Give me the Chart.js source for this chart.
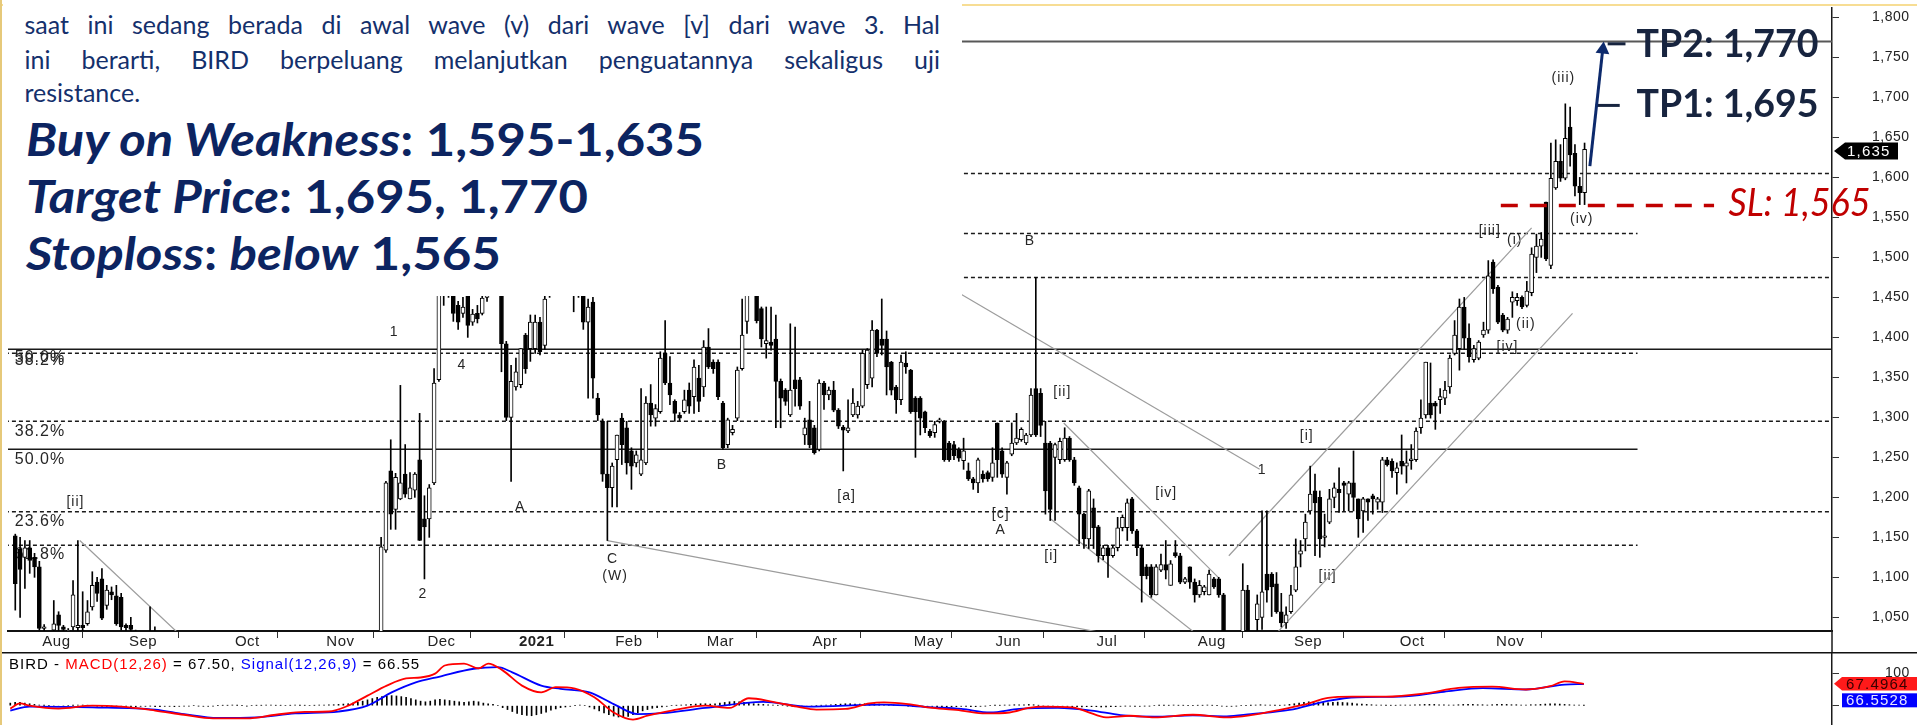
<!DOCTYPE html>
<html>
<head>
<meta charset="utf-8">
<script src="https://cdn.jsdelivr.net/npm/chart.js@4.4.1/dist/chart.umd.min.js"></script>
<style>
  html, body { margin: 0; padding: 0; background: #fff; }
  #wrap { position: relative; width: 1917px; height: 725px; overflow: hidden; }
  #main { position: absolute; left: 0; top: 0; }
  #macd { position: absolute; left: 0; top: 652px; }
  #topline { position: absolute; left: 0; top: 4px; width: 1917px; height: 2px; background: #f7dd94; }
  #leftline { position: absolute; left: 0; top: 0; width: 2px; height: 725px; background: #e6c97a; z-index: 3; }
  #note { position: absolute; left: 3px; top: 0; width: 959px; height: 296px; background: #fff; overflow: hidden; z-index: 2; }
  .para { position: absolute; left: 21.5px; width: 915.5px; font: 25px/30px Lato, "Open Sans", sans-serif; color: #14306c; text-align: justify; text-align-last: justify; }
  .para.last { text-align: left; text-align-last: left; }
  .big { position: absolute; left: 23px; font: bold 45px/54px Lato, "Open Sans", sans-serif; color: #0c2461; white-space: nowrap; }
  .big span { display: inline-block; transform-origin: 0 50%; }
</style>
</head>
<body>
<div id="wrap">
  <canvas id="main" width="1917" height="652"></canvas>
  <canvas id="macd" width="1917" height="73"></canvas>
  <div id="topline"></div>
  <div id="note">
    <div class="para" style="top:8.6px">saat ini sedang berada di awal wave (v) dari wave [v] dari wave 3. Hal</div>
    <div class="para" style="top:43.6px">ini berarti, BIRD berpeluang melanjutkan penguatannya sekaligus uji</div>
    <div class="para last" style="top:77px">resistance.</div>
    <div class="big" style="top:112.3px"><span><i>Buy on Weakness</i>: 1,595-1,635</span></div>
    <div class="big" style="top:168.9px"><span><i>Target Price</i>: 1,695, 1,770</span></div>
    <div class="big" style="top:225.6px"><span><i>Stoploss</i>: <i>below</i> 1,565</span></div>
  </div>
  <div id="leftline"></div>
</div>
<script>
// daily bars, BIRD, late Jul 2020 .. 26 Nov 2021 (index = trading day)
const opens = [
  1152,1135,1125,1137,1125,1113,1036,1030,1034,1053,
  1038,1030,1038,1037,1040,1042,1063,1094,1098,1065,
  1082,1077,1075,1040,1040,1030,1025,1020,1026,1030,
  1025,1010,1000,990,985,975,982,965,958,962,
  970,965,955,948,955,960,968,962,955,950,
  960,966,970,975,966,972,985,980,975,982,
  992,988,980,986,995,1002,998,1004,1012,1008,
  1015,1020,1016,1022,1018,1024,1010,1134,1233,1185,
  1198,1229,1198,1209,1247,1173,1173,1218,1347,1460,
  1490,1470,1440,1430,1460,1419,1430,1430,1450,1480,
  1475,1470,1392,1300,1338,1341,1403,1386,1386,1419,
  1390,1455,1470,1485,1475,1478,1460,1458,1460,1419,
  1444,1324,1295,1229,1212,1247,1299,1287,1258,1243,
  1229,1243,1318,1299,1307,1380,1343,1320,1303,1307,
  1334,1326,1349,1338,1388,1369,1369,1318,1266,1281,
  1299,1361,1420,1465,1460,1436,1392,1394,1398,1345,
  1334,1303,1347,1347,1278,1297,1287,1260,1343,1328,
  1334,1309,1288,1283,1303,1303,1314,1341,1349,1409,
  1398,1398,1369,1338,1322,1368,1359,1324,1324,1307,
  1283,1281,1295,1295,1268,1266,1260,1246,1233,1223,
  1218,1229,1231,1225,1293,1258,1225,1254,1268,1272,
  1268,1278,1336,1330,1268,1268,1250,1247,1247,1274,
  1247,1212,1179,1148,1187,1163,1127,1137,1127,1137,
  1162,1162,1198,1158,1137,1113,1113,1078,1109,1116,
  1090,1131,1127,1094,1113,1094,1078,1082,1078,1098,
  1098,1078,1010,1005,1015,1010,1084,1020,1047,1050,
  1104,1104,1092,1057,1043,1057,1084,1129,1148,1183,
  1208,1200,1150,1169,1200,1210,1218,1204,1218,1198,
  1183,1198,1202,1194,1194,1247,1245,1231,1245,1239,
  1246,1247,1287,1303,1318,1318,1322,1324,1338,1380,
  1386,1438,1399,1372,1374,1403,1409,1494,1463,1428,
  1409,1444,1446,1450,1440,1456,1500,1514,1569,1490,
  1587,1620,1599,1663,1630,1589,1581
];
const highs = [
  1154,1150,1146,1146,1130,1120,1041,1032,1071,1057,
  1040,1036,1096,1146,1082,1071,1107,1100,1111,1090,
  1088,1090,1080,1042,1050,1034,1030,1031,1063,1038,
  1030,1018,1012,1000,995,990,988,975,970,975,
  985,972,965,960,968,975,980,970,962,965,
  972,978,985,982,975,990,995,988,985,998,
  1005,996,992,1000,1010,1015,1008,1020,1025,1018,
  1028,1030,1026,1030,1028,1031,1150,1220,1272,1230,
  1340,1266,1231,1231,1305,1202,1216,1361,1475,1510,
  1505,1475,1445,1450,1465,1435,1440,1470,1495,1500,
  1505,1475,1395,1365,1374,1386,1405,1428,1428,1425,
  1460,1490,1500,1495,1492,1485,1470,1480,1470,1448,
  1450,1330,1298,1295,1243,1278,1305,1295,1262,1258,
  1336,1326,1341,1316,1382,1421,1376,1322,1306,1334,
  1343,1372,1365,1396,1411,1372,1372,1320,1299,1290,
  1363,1448,1475,1495,1470,1438,1438,1438,1428,1348,
  1336,1417,1413,1350,1299,1320,1290,1347,1345,1338,
  1345,1311,1290,1322,1336,1320,1384,1386,1421,1410,
  1448,1408,1370,1340,1378,1382,1360,1326,1326,1308,
  1285,1295,1299,1296,1270,1270,1262,1274,1243,1225,
  1249,1233,1233,1262,1293,1262,1245,1293,1305,1287,
  1280,1336,1475,1336,1295,1270,1268,1274,1287,1276,
  1250,1214,1180,1210,1198,1165,1140,1140,1140,1175,
  1178,1198,1200,1160,1140,1116,1116,1116,1129,1146,
  1121,1146,1130,1100,1113,1098,1096,1090,1109,1100,
  1100,1080,1025,1028,1030,1117,1090,1032,1078,1183,
  1183,1106,1106,1080,1063,1090,1148,1146,1179,1239,
  1229,1208,1179,1210,1218,1237,1220,1220,1258,1198,
  1200,1198,1204,1200,1250,1250,1248,1243,1278,1258,
  1266,1287,1322,1369,1368,1320,1336,1345,1378,1421,
  1448,1450,1417,1390,1396,1419,1496,1497,1465,1430,
  1425,1457,1455,1452,1470,1512,1529,1531,1569,1643,
  1647,1641,1692,1688,1641,1600,1643
];
const lows = [
  1059,1050,1086,1105,1100,1034,1030,1018,1030,1030,
  1030,1022,1034,1033,1033,1040,1059,1070,1047,1060,
  1072,1040,1034,1033,1030,1018,1012,1015,1020,1022,
  1005,995,985,975,970,965,960,950,945,955,
  960,950,940,938,950,955,958,950,945,948,
  955,960,965,962,958,968,975,970,968,978,
  985,975,972,980,990,995,990,1000,1005,998,
  1010,1010,1008,1012,1010,1015,1000,1131,1160,1160,
  1197,1200,1198,1200,1146,1098,1150,1216,1345,1440,
  1450,1420,1410,1425,1400,1415,1418,1428,1445,1460,
  1465,1357,1296,1220,1334,1337,1355,1370,1380,1378,
  1385,1450,1460,1465,1462,1455,1432,1450,1410,1324,
  1324,1296,1220,1146,1188,1188,1241,1229,1210,1238,
  1227,1241,1289,1289,1305,1341,1316,1295,1296,1305,
  1305,1305,1307,1326,1361,1355,1322,1260,1262,1278,
  1296,1359,1405,1455,1418,1388,1374,1384,1287,1287,
  1315,1301,1314,1310,1266,1262,1254,1258,1310,1322,
  1307,1286,1233,1281,1301,1299,1312,1336,1338,1376,
  1378,1328,1328,1305,1316,1355,1305,1250,1278,1281,
  1275,1275,1293,1245,1245,1247,1245,1235,1221,1210,
  1206,1219,1220,1220,1225,1225,1204,1252,1266,1270,
  1266,1276,1276,1276,1179,1171,1171,1242,1245,1245,
  1215,1142,1136,1136,1136,1119,1122,1100,1125,1133,
  1158,1146,1155,1127,1069,1098,1075,1078,1107,1098,
  1090,1125,1092,1092,1086,1069,1075,1078,1078,1086,
  1075,1000,995,998,1000,1000,1000,1010,1030,1035,
  1069,1051,1055,1038,1036,1055,1082,1113,1133,1179,
  1127,1125,1138,1167,1187,1181,1183,1183,1183,1150,
  1156,1171,1179,1185,1181,1239,1225,1204,1229,1218,
  1235,1245,1280,1299,1299,1285,1305,1316,1330,1378,
  1359,1385,1369,1369,1372,1400,1405,1455,1417,1407,
  1405,1425,1440,1436,1438,1452,1481,1500,1496,1486,
  1585,1595,1597,1614,1577,1566,1566
];
const closes = [
  1092,1110,1137,1121,1113,1036,1038,1026,1042,1040,
  1035,1034,1078,1040,1037,1057,1090,1080,1049,1084,
  1078,1042,1038,1037,1035,1025,1020,1026,1030,1028,
  1010,1000,990,985,975,982,965,958,962,970,
  965,955,948,955,960,968,962,955,950,960,
  966,970,975,966,972,985,980,975,982,992,
  988,980,986,995,1002,998,1004,1012,1008,1015,
  1020,1016,1022,1018,1024,1020,1138,1218,1179,1225,
  1218,1204,1212,1229,1146,1163,1212,1343,1460,1490,
  1465,1430,1419,1438,1415,1429,1423,1449,1480,1470,
  1490,1392,1300,1345,1357,1386,1361,1419,1419,1382,
  1448,1470,1485,1475,1480,1462,1455,1465,1419,1438,
  1349,1303,1229,1212,1239,1278,1266,1243,1239,1253,
  1247,1318,1303,1311,1374,1343,1328,1305,1299,1322,
  1314,1363,1320,1388,1363,1361,1326,1262,1297,1285,
  1359,1403,1460,1480,1421,1398,1396,1390,1345,1324,
  1320,1334,1336,1314,1287,1266,1256,1343,1328,1334,
  1309,1289,1284,1287,1318,1314,1380,1384,1409,1380,
  1390,1363,1334,1322,1369,1363,1307,1307,1299,1287,
  1277,1291,1297,1247,1247,1252,1249,1258,1223,1218,
  1247,1223,1223,1243,1247,1229,1243,1268,1274,1285,
  1278,1328,1278,1290,1208,1185,1266,1270,1274,1247,
  1218,1179,1148,1208,1162,1127,1137,1127,1137,1162,
  1175,1193,1158,1137,1102,1102,1078,1113,1116,1109,
  1117,1127,1094,1098,1094,1078,1090,1088,1104,1088,
  1078,1010,1005,1015,1012,1084,1010,1030,1067,1082,
  1084,1088,1057,1043,1053,1078,1113,1133,1169,1204,
  1193,1148,1152,1198,1212,1206,1215,1218,1200,1173,
  1198,1194,1198,1198,1247,1241,1233,1237,1239,1243,
  1248,1283,1299,1369,1303,1314,1326,1334,1374,1403,
  1438,1399,1376,1386,1394,1409,1477,1461,1419,1409,
  1423,1450,1450,1438,1458,1504,1514,1523,1498,1599,
  1620,1599,1649,1628,1589,1581,1635
];

// MACD(12,26) and Signal(12,26,9) at these bars
const macdBar = [0,2,4,10,17,23,30,36,42,49,55,61,66,70,74,78,82,85,88,90,94,97,99,102,106,110,113,117,121,125,
  129,132,137,144,149,153,158,163,167,173,178,181,186,191,197,202,207,211,214,220,223,227,232,237,245,252,257,263,268,273,
  278,285,293,300,307,314,319,322,326];
const macdVal = [-9,7,0,-9,0,-3,-15,-28,-39,-39,-28,-19,-18,0,31,62,84,87,99,124,130,115,130,109,62,41,57,53,26,-21,
  -43,-31,-15,0,-7,23,12,-3,-12,-10,7,10,5,-7,-15,-24,-21,-7,-3,-5,-18,-36,-31,-36,-28,-36,-29,-13,3,24,
  28,28,38,55,59,50,60,75,67.5];
const signalBar = [0,4,17,30,36,43,51,59,68,74,79,84,89,96,101,104,110,114,120,125,130,135,144,156,165,181,191,197,203,209,
  217,224,230,237,245,252,257,265,273,279,288,297,305,314,322,326];
const signalVal = [-15,-3,-5,-12,-26,-38,-36,-24,-18,0,41,72,90,114,119,103,62,52,41,5,-26,-23,-7,12,-3,3,-5,-10,-21,-10,
  -7,-15,-29,-34,-30,-33,-26,-13,15,26,28,43,54,50,65,66.55];
const histVal = [
  8,10,10,8,6,4,2,1,0,-1,  -2,-1,0,1,2,2,1,0,-1,-2,  -2,-1,-1,-2,-2,-3,-3,-2,-2,-1,
  -3,-3,-2,-2,-3,-2,-1,-1,0,-1,  -2,-2,-1,0,1,1,2,1,0,-1,  0,1,1,2,2,1,1,0,1,2,
  1,1,0,1,2,2,3,3,4,5,  6,8,10,14,18,22,26,28,30,31,  30,28,26,22,18,14,12,14,18,20,
  18,16,14,12,10,12,14,12,8,6,  4,0,-6,-12,-18,-24,-28,-30,-31,-28,  -24,-20,-14,-10,-6,-4,-2,0,2,0,
  -4,-10,-16,-22,-28,-32,-35,-36,-33,-28,  -22,-16,-12,-8,-6,-4,-2,0,1,2,  3,4,5,6,6,5,6,8,10,12,
  13,12,10,8,6,5,4,3,2,1,  0,-1,-2,-3,-3,-2,-1,0,1,2,  3,4,5,6,6,5,5,6,7,6,
  5,4,3,2,1,0,-1,-2,-3,-3,  -2,-2,-3,-4,-4,-3,-3,-2,-2,-3,  -3,-2,-1,0,1,1,2,2,3,3,
  3,4,3,1,-1,-2,-3,-3,-2,-2,  -3,-3,-4,-3,-3,-3,-4,-4,-3,-3,  -2,-1,-1,-2,-2,-1,-1,0,1,1,
  1,2,1,1,0,0,1,1,2,1,  0,-1,-2,-2,-1,0,0,1,2,3,  2,2,1,1,2,4,6,8,10,12,
  12,11,10,9,10,11,10,9,8,6,  5,4,3,2,2,1,1,1,2,2,  2,3,3,4,4,4,3,3,2,2,
  3,4,4,4,3,3,2,3,4,4,  4,3,3,2,2,3,3,4,5,6,  6,5,4,3,2,2,1
];
const lastMacd = 67.4964;
const lastSignal = 66.5528;

// axes
const monthBar = [5,23,45,64,85,104,124,143,165,186,203,224,245,265,287,307];
const monthLabel = ['Aug','Sep','Oct','Nov','Dec','2021','Feb','Mar','Apr','May','Jun','Jul','Aug','Sep','Oct','Nov'];
const priceTicks = [1050,1100,1150,1200,1250,1300,1350,1400,1450,1500,1550,1600,1650,1700,1750,1800];
const macdTicks = [0, 100];

// drawn levels and trend lines (bar, price)
const levelPrice = [1770,1605,1530,1475,1385,1380,1295,1260,1182,1140];
const levelEndBar = [378,378,337,378,378,337,378,337,378,337];
const solidLevels = [1770,1385,1260];
const trendFrom = [[13.4,1146],[123,1146],[180,1512],[217.8,1293],[215.1,1173],[252.1,1127],[260,1017]];
const trendTo = [[36,1018],[230,1026],[258.5,1235],[249.9,1100],[250,1007],[315,1537],[323.5,1430]];

// trade plan
const targets = [1695, 1770];
const stopLoss = 1565;
const arrowFrom = [327.1, 1614];
const arrowTo = [329.7, 1756];
const arrowHead = [329.8, 1760];
const tp2Tick = [[330.8,1767],[334.5,1767]];
const tp1Tick = [[328.3,1690],[333.3,1690]];
const slFromBar = 308.6, slToBar = 352.9;

// wave / fib labels
const waveText = ['1','4','2','A','[ii]','C','(W)','B','[a]','[c]','A','[i]','[ii]','[iv]','1','[i]','[ii]','[iv]','(ii)','[iii]','(i)','(iii)','(iv)','B'];
const waveBar = [78.7,92.8,84.7,104.9,12.5,124.1,124.6,146.8,172.7,204.7,204.7,215.2,217.5,239.1,259,268.3,272.6,310,313.8,306.3,311.5,321.6,325.4,210.8];
const wavePrice = [1406.8,1365.8,1078.9,1188.2,1193.5,1123.2,1101.3,1240.4,1201.9,1179.1,1158.4,1126.1,1331.1,1205.2,1233.8,1276.4,1101.3,1388.2,1417.1,1532.3,1521.1,1723.6,1547.6,1520.3];
const fibText = ['50.0%','38.2%','38.2%','50.0%','23.6%','61.8%'];
const fibPrice = [1374.5,1370.8,1281.8,1247.5,1170,1128.2];

const xMin = -1.512, xMax = 377.4;
const AX_FONT = '"Liberation Sans", Arial, sans-serif';
Chart.defaults.font.family = AX_FONT;

const bars = opens.map((_, i) => i);
const isUp = bars.map(i => closes[i] >= opens[i]);

function seg(a, b) { return [{ x: a[0], y: a[1] }, { x: b[0], y: b[1] }]; }

function fitText(ctx, text, x, y, font, color, width) {
  ctx.save();
  ctx.letterSpacing = '0px';
  ctx.font = font;
  ctx.fillStyle = color;
  ctx.textAlign = 'left';
  ctx.textBaseline = 'alphabetic';
  const w = ctx.measureText(text).width;
  ctx.translate(x, y);
  ctx.scale(width / w, 1);
  ctx.fillText(text, 0, 0);
  ctx.restore();
}

const levelSets = levelPrice.map((p, k) => {
  const solid = solidLevels.includes(p);
  return {
    type: 'line',
    data: [{ x: xMin - 5, y: p }, { x: levelEndBar[k], y: p }],
    borderColor: p === 1770 ? '#585858' : '#1a1a1a',
    borderWidth: p === 1770 ? 2 : 1.5,
    borderDash: solid ? [] : [4, 3],
    pointRadius: 0,
    order: 20
  };
});

const trendSets = trendFrom.map((a, k) => ({
  type: 'line',
  data: seg(a, trendTo[k]),
  borderColor: '#9c9c9c',
  borderWidth: 1.2,
  pointRadius: 0,
  order: 15
}));

const mainDecor = {
  id: 'mainDecor',
  beforeDraw(chart) { chart.ctx.letterSpacing = '0.5px'; },
  beforeDatasetsDraw(chart) {
    const { ctx, chartArea, scales: { x, y } } = chart;
    ctx.save();
    ctx.beginPath();
    ctx.rect(chartArea.left, chartArea.top, chartArea.width, chartArea.height);
    ctx.clip();
    ctx.fillStyle = '#262626';
    ctx.letterSpacing = '1px';
    ctx.textBaseline = 'middle';
    ctx.font = '16px ' + AX_FONT;
    ctx.textAlign = 'left';
    fibText.forEach((t, k) => ctx.fillText(t, x.getPixelForValue(-0.1), y.getPixelForValue(fibPrice[k])));
    ctx.font = '14px ' + AX_FONT;
    ctx.textAlign = 'center';
    waveText.forEach((t, k) => ctx.fillText(t, x.getPixelForValue(waveBar[k]), y.getPixelForValue(wavePrice[k])));
    ctx.restore();
  },
  afterDraw(chart) {
    const { ctx, chartArea, scales: { x, y } } = chart;
    ctx.save();
    // axis line through the date strip
    ctx.strokeStyle = '#1a1a1a';
    ctx.lineWidth = 1.5;
    ctx.beginPath();
    ctx.moveTo(chartArea.right, chartArea.bottom);
    ctx.lineTo(chartArea.right, chart.height);
    ctx.stroke();
    // last price tag
    const last = closes[closes.length - 1];
    const yc = y.getPixelForValue(last) + 1.5;
    const r = chartArea.right;
    ctx.fillStyle = '#000';
    ctx.beginPath();
    ctx.moveTo(r + 2, yc);
    ctx.lineTo(r + 13, yc - 8.5);
    ctx.lineTo(r + 66, yc - 8.5);
    ctx.lineTo(r + 66, yc + 8.5);
    ctx.lineTo(r + 13, yc + 8.5);
    ctx.closePath();
    ctx.fill();
    ctx.fillStyle = '#fff';
    ctx.font = '15px ' + AX_FONT;
    ctx.letterSpacing = '1.2px';
    ctx.textBaseline = 'middle';
    ctx.textAlign = 'left';
    ctx.fillText(last.toLocaleString('en-US'), r + 15, yc + 1);
    ctx.restore();
    // trade plan text
    fitText(ctx, 'TP2: ' + targets[1].toLocaleString('en-US'), x.getPixelForValue(336.8), y.getPixelForValue(1750.5), 'bold 38px Lato, sans-serif', '#17243f', 182);
    fitText(ctx, 'TP1: ' + targets[0].toLocaleString('en-US'), x.getPixelForValue(336.8), y.getPixelForValue(1675), 'bold 38px Lato, sans-serif', '#17243f', 182);
    fitText(ctx, 'SL: ' + stopLoss.toLocaleString('en-US'), x.getPixelForValue(355.9), y.getPixelForValue(1551.5), 'italic 39px Lato, sans-serif', '#c00000', 142);
  }
};

new Chart(document.getElementById('main'), {
  type: 'bar',
  data: {
    datasets: [
      {
        type: 'bar',
        data: bars.map(i => ({ x: i, y: [opens[i], closes[i]] })),
        backgroundColor: isUp.map(u => (u ? '#ffffff' : '#000000')),
        borderColor: '#000',
        borderWidth: 1,
        borderSkipped: false,
        barThickness: 4,
        minBarLength: 1,
        grouped: false,
        order: 5
      },
      {
        type: 'bar',
        data: bars.map(i => ({ x: i, y: [lows[i], highs[i]] })),
        backgroundColor: '#000',
        borderWidth: 0,
        barThickness: 1,
        grouped: false,
        order: 6
      },
      ...levelSets,
      ...trendSets,
      {
        type: 'line',
        data: [{ x: slFromBar, y: stopLoss }, { x: slToBar, y: stopLoss }],
        borderColor: '#c00000',
        borderWidth: 3.5,
        borderDash: [17, 12],
        pointRadius: 0,
        order: 3
      },
      {
        type: 'line',
        data: seg(arrowFrom, arrowTo),
        borderColor: '#0d2a6c',
        borderWidth: 3,
        pointRadius: 0,
        order: 2
      },
      {
        type: 'line',
        data: [{ x: arrowHead[0], y: arrowHead[1] }],
        showLine: false,
        pointStyle: 'triangle',
        pointRadius: 8,
        pointRotation: 6,
        pointBackgroundColor: '#0d2a6c',
        pointBorderWidth: 0,
        order: 2
      },
      {
        type: 'line', data: seg(tp2Tick[0], tp2Tick[1]),
        borderColor: '#17243f', borderWidth: 3, pointRadius: 0, order: 2
      },
      {
        type: 'line', data: seg(tp1Tick[0], tp1Tick[1]),
        borderColor: '#17243f', borderWidth: 3, pointRadius: 0, order: 2
      }
    ]
  },
  options: {
    animation: false,
    responsive: false,
    events: [],
    layout: { padding: { left: 3, top: 4, right: 0, bottom: 0 } },
    plugins: { legend: { display: false }, tooltip: { enabled: false } },
    scales: {
      x: {
        type: 'linear',
        min: xMin,
        max: xMax,
        offset: false,
        afterBuildTicks: s => { s.ticks = monthBar.map(v => ({ value: v })); },
        afterFit: s => { s.height = 21; s.paddingLeft = 0; s.paddingRight = 0; },
        grid: { drawOnChartArea: false, drawTicks: true, tickLength: 7, tickColor: '#333', tickWidth: 1 },
        border: { display: true, color: '#111', width: 2 },
        ticks: {
          autoSkip: false,
          maxRotation: 0,
          minRotation: 0,
          align: 'start',
          labelOffset: 3,
          padding: -5,
          color: '#222',
          font: c => ({ size: 15, weight: monthLabel[c.index] === '2021' ? 'bold' : 'normal' }),
          callback: (v, i) => monthLabel[i]
        }
      },
      y: {
        position: 'right',
        min: 1032.9,
        max: 1811.8,
        afterBuildTicks: s => { s.ticks = priceTicks.map(v => ({ value: v })); },
        afterFit: s => { s.width = 85; s.paddingTop = 0; s.paddingBottom = 0; },
        grid: { drawOnChartArea: false, drawTicks: true, tickLength: 7, tickColor: '#333' },
        border: { display: true, color: '#1a1a1a', width: 1.5 },
        ticks: {
          padding: 33,
          color: '#222',
          font: { size: 14 },
          callback: v => v.toLocaleString('en-US')
        }
      }
    }
  },
  plugins: [mainDecor]
});

const macdDecor = {
  id: 'macdDecor',
  beforeDraw(chart) { chart.ctx.letterSpacing = '0.5px'; },
  afterDraw(chart) {
    const { ctx, chartArea, scales: { y } } = chart;
    ctx.save();
    ctx.strokeStyle = '#111';
    ctx.lineWidth = 1.5;
    ctx.beginPath();
    ctx.moveTo(0, 0.75);
    ctx.lineTo(chart.width, 0.75);
    ctx.stroke();
    ctx.font = '15px ' + AX_FONT;
    ctx.letterSpacing = '1px';
    ctx.textBaseline = 'alphabetic';
    ctx.textAlign = 'left';
    const parts = [
      ['BIRD - ', '#000'], ['MACD(12,26)', '#ff0000'], [' = ' + lastMacd.toFixed(2) + ', ', '#000'],
      ['Signal(12,26,9)', '#0000ff'], [' = ' + lastSignal.toFixed(2), '#000']
    ];
    let tx = 9;
    parts.forEach(([t, c]) => { ctx.fillStyle = c; ctx.fillText(t, tx, 16.5); tx += ctx.measureText(t).width; });
    // value tags on the right
    const r = chartArea.right;
    const yr = y.getPixelForValue(lastMacd);
    ctx.fillStyle = '#ff1a1a';
    ctx.beginPath();
    ctx.moveTo(r + 2, yr);
    ctx.lineTo(r + 10, yr - 6.8);
    ctx.lineTo(chart.width, yr - 6.8);
    ctx.lineTo(chart.width, yr + 6.8);
    ctx.lineTo(r + 10, yr + 6.8);
    ctx.closePath();
    ctx.fill();
    ctx.fillStyle = '#0000ff';
    ctx.fillRect(r + 10, yr + 9.5, chart.width - r - 10, 14);
    ctx.font = '15px ' + AX_FONT;
    ctx.letterSpacing = '1.2px';
    ctx.textBaseline = 'middle';
    ctx.fillStyle = '#3a0000';
    ctx.fillText(lastMacd.toFixed(4), r + 14, yr + 1);
    ctx.fillStyle = '#e6e6ff';
    ctx.fillText(lastSignal.toFixed(4), r + 14, yr + 17.5);
    ctx.restore();
  }
};

new Chart(document.getElementById('macd'), {
  type: 'bar',
  data: {
    datasets: [
      {
        type: 'line',
        data: macdBar.map((b, k) => ({ x: b, y: macdVal[k] })),
        borderColor: '#ff0000',
        borderWidth: 1.8,
        pointRadius: 0,
        cubicInterpolationMode: 'monotone',
        order: 1
      },
      {
        type: 'line',
        data: signalBar.map((b, k) => ({ x: b, y: signalVal[k] })),
        borderColor: '#0000ff',
        borderWidth: 1.8,
        pointRadius: 0,
        cubicInterpolationMode: 'monotone',
        order: 2
      },
      {
        type: 'bar',
        data: bars.map(i => ({ x: i, y: histVal[i] })),
        backgroundColor: '#000',
        barThickness: 1,
        grouped: false,
        order: 3
      }
    ]
  },
  options: {
    animation: false,
    responsive: false,
    events: [],
    layout: { padding: { left: 3, top: 0, right: 0, bottom: 0 } },
    plugins: { legend: { display: false }, tooltip: { enabled: false } },
    scales: {
      x: { type: 'linear', min: xMin, max: xMax, offset: false, display: false },
      y: {
        position: 'right',
        min: -59.6,
        max: 165.7,
        afterBuildTicks: s => { s.ticks = macdTicks.map(v => ({ value: v })); },
        afterFit: s => { s.width = 85; s.paddingTop = 0; s.paddingBottom = 0; },
        grid: { drawOnChartArea: false, drawTicks: true, tickLength: 7, tickColor: '#333' },
        border: { display: true, color: '#1a1a1a', width: 1.5 },
        ticks: {
          padding: 46,
          color: '#222',
          font: { size: 14 },
          callback: v => (v === 100 ? '100' : '')
        }
      }
    }
  },
  plugins: [macdDecor]
});

// squeeze the headline lines to the widths they take in the note
const bigWidths = [678, 562, 475];
document.querySelectorAll('.big span').forEach((s, k) => {
  const w = s.getBoundingClientRect().width;
  s.style.transform = 'scaleX(' + (bigWidths[k] / w) + ')';
});
</script>
</body>
</html>
